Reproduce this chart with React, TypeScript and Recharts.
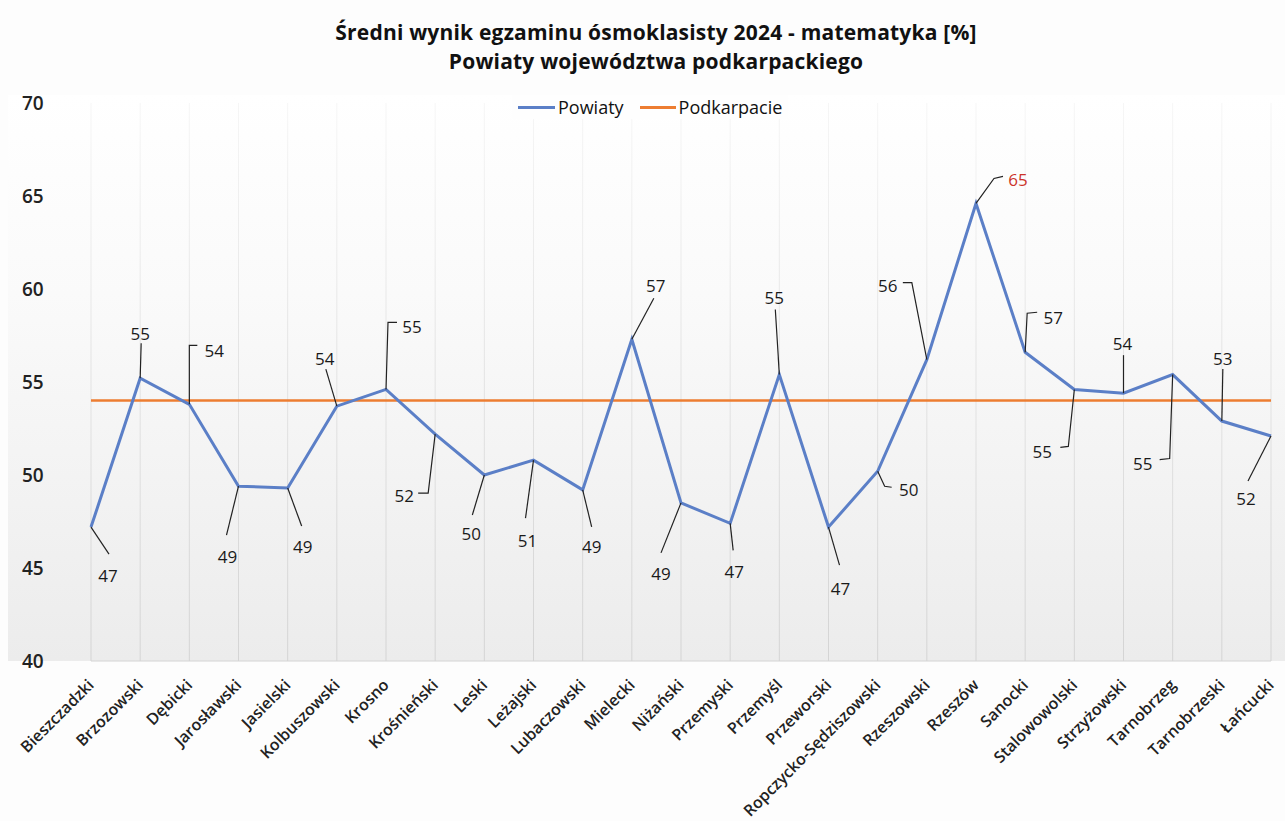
import React from 'react';
import { LineChart, Line, XAxis, YAxis, CartesianGrid, LabelList } from 'recharts';

const powiaty = [
  'Bieszczadzki', 'Brzozowski', 'Dębicki', 'Jarosławski', 'Jasielski', 'Kolbuszowski', 'Krosno',
  'Krośnieński', 'Leski', 'Leżajski', 'Lubaczowski', 'Mielecki', 'Niżański', 'Przemyski',
  'Przemyśl', 'Przeworski', 'Ropczycko-Sędziszowski', 'Rzeszowski', 'Rzeszów', 'Sanocki',
  'Stalowowolski', 'Strzyżowski', 'Tarnobrzeg', 'Tarnobrzeski', 'Łańcucki',
];

const wyniki = [
  47.2, 55.2, 53.8, 49.4, 49.3, 53.7, 54.6, 52.2, 50.0, 50.8, 49.2, 57.3, 48.5, 47.4,
  55.4, 47.2, 50.2, 56.2, 64.6, 56.6, 54.6, 54.4, 55.4, 52.9, 52.1,
];

const podkarpacie = 54.0;

const yTicks = [40, 45, 50, 55, 60, 65, 70];

const rows = powiaty.map((name, i) => ({ name, powiaty: wyniki[i], podkarpacie }));

// label placement for each point: leader polyline and text center, relative to the point
const labelLayout: { lead: number[][]; at: number[] }[] = [
  { lead: [[18, 27]], at: [17, 48] },
  { lead: [[1, -35]], at: [0, -45] },
  { lead: [[0, -59], [8, -59]], at: [25, -54] },
  { lead: [[-12, 49]], at: [-11, 70] },
  { lead: [[14, 38]], at: [15, 58] },
  { lead: [[-11, -37]], at: [-12, -48] },
  { lead: [[2, -67], [11, -67]], at: [26, -63] },
  { lead: [[-7, 59], [-17, 59]], at: [-31, 61] },
  { lead: [[-12, 40]], at: [-13, 58] },
  { lead: [[-8, 58]], at: [-6, 80] },
  { lead: [[9, 37]], at: [9, 57] },
  { lead: [[22, -41]], at: [24, -54] },
  { lead: [[-20, 50]], at: [-20, 71] },
  { lead: [[3, 27]], at: [4, 48] },
  { lead: [[-4, -65]], at: [-5, -77] },
  { lead: [[11, 38]], at: [12, 61] },
  { lead: [[7, 15], [14, 16]], at: [31, 18] },
  { lead: [[-15, -77], [-24, -77]], at: [-39, -74] },
  { lead: [[18, -25], [27, -27]], at: [42, -24] },
  { lead: [[2, -39], [12, -40]], at: [28, -35] },
  { lead: [[-6, 57], [-14, 58]], at: [-32, 62] },
  { lead: [[0, -38]], at: [-1, -50] },
  { lead: [[-3, 84], [-13, 85]], at: [-30, 89] },
  { lead: [[1, -52]], at: [1, -63] },
  { lead: [[-23, 45]], at: [-25, 63] },
];

const font = '"Open Sans", Lato, sans-serif';

const PointLabel = (props: any) => {
  const { x, y, index, value } = props;
  const l = labelLayout[index];
  if (!l || x == null || y == null) return null;
  const pts = [[x, y], ...l.lead.map(([dx, dy]) => [x + dx, y + dy])];
  const isMax = value === Math.max(...wyniki);
  return (
    <g>
      <polyline points={pts.map(p => p.join(',')).join(' ')} fill="none" stroke="#222" strokeWidth={1.2} />
      <text
        x={x + l.at[0]}
        y={y + l.at[1]}
        textAnchor="middle"
        dominantBaseline="central"
        fontFamily={font}
        fontSize={17}
        fontWeight={500}
        fill={isMax ? '#cc3329' : '#1a1a1a'}
      >
        {Math.round(value)}
      </text>
    </g>
  );
};

const XTick = ({ x, y, payload }: any) => (
  <text
    x={x + 4}
    y={y + 17}
    transform={`rotate(-45, ${x + 4}, ${y + 17})`}
    textAnchor="end"
    fontFamily={font}
    fontSize={16}
    fontWeight={600}
    fill="#222"
  >
    {payload.value}
  </text>
);

const YTick = ({ y, payload }: any) => (
  <text x={22} y={y} dominantBaseline="central" fontFamily={font} fontSize={19} fontWeight={600} fill="#222">
    {payload.value}
  </text>
);

export default function App() {
  return (
    <div style={{ position: 'absolute', left: 0, top: 0, width: 1285, height: 821, background: '#fdfdfd', overflow: 'hidden' }}>
      <svg width={0} height={0} style={{ position: 'absolute' }}>
        <defs>
          <linearGradient id="gridFade" gradientUnits="userSpaceOnUse" x1={0} y1={103} x2={0} y2={663}>
            <stop offset="0%" stopColor="#f6f6f6" />
            <stop offset="45%" stopColor="#e4e4e4" />
            <stop offset="100%" stopColor="#d4d4d4" />
          </linearGradient>
        </defs>
      </svg>
      <div
        style={{
          position: 'absolute', left: 8, top: 95, width: 1277, height: 566,
          background: 'linear-gradient(to bottom, #ffffff 0%, #fafafa 35%, #ececec 100%)',
        }}
      />
      <div style={{ position: 'absolute', left: 0, top: 18, width: 1312, textAlign: 'center', fontFamily: font, fontWeight: 700, fontSize: 21, lineHeight: '29px', color: '#111', letterSpacing: 0.2 }}>
        Średni wynik egzaminu ósmoklasisty 2024 - matematyka [%]
        <br />
        Powiaty województwa podkarpackiego
      </div>
      <div style={{ position: 'absolute', left: 0, top: 0 }}>
        <LineChart width={1285} height={821} data={rows} margin={{ top: 103, right: 14, bottom: 0, left: 0 }}>
          <CartesianGrid horizontal={false} stroke="url(#gridFade)" />
          <XAxis
            dataKey="name"
            interval={0}
            height={160}
            tick={<XTick />}
            tickLine={false}
            axisLine={{ stroke: '#d4d4d4' }}
          />
          <YAxis width={91} domain={[40, 70]} ticks={yTicks} axisLine={false} tickLine={false} tick={<YTick />} />
          <Line
            dataKey="podkarpacie"
            stroke="#ed7d31"
            strokeWidth={2.5}
            dot={false}
            activeDot={false}
            isAnimationActive={false}
          />
          <Line
            dataKey="powiaty"
            stroke="#5b7fc7"
            strokeWidth={3}
            dot={false}
            activeDot={false}
            isAnimationActive={false}
          >
            <LabelList dataKey="powiaty" content={<PointLabel />} />
          </Line>
        </LineChart>
      </div>
      <div style={{ position: 'absolute', left: 512, top: 95, padding: '0 6px', background: '#fefefe', display: 'flex', alignItems: 'center', fontFamily: font, fontSize: 18, fontWeight: 500, color: '#111' }}>
        <span style={{ display: 'inline-block', width: 37, height: 3, background: '#5b7fc7', marginRight: 3 }} />
        <span style={{ marginRight: 16 }}>Powiaty</span>
        <span style={{ display: 'inline-block', width: 36, height: 3, background: '#ed7d31', marginRight: 3 }} />
        <span>Podkarpacie</span>
      </div>
    </div>
  );
}
